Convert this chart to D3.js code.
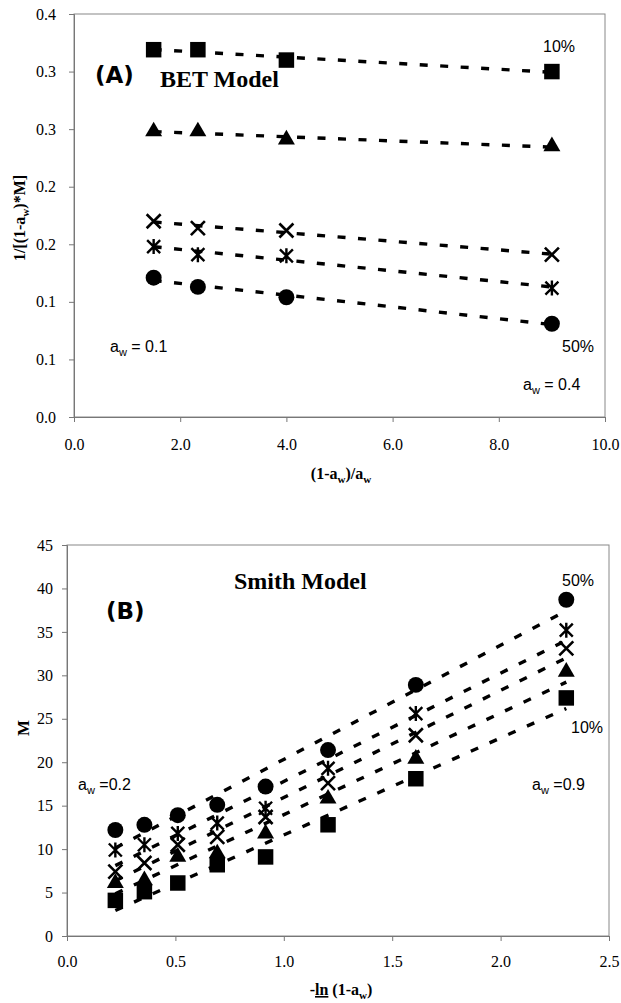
<!DOCTYPE html>
<html>
<head>
<meta charset="utf-8">
<script src="https://cdn.jsdelivr.net/npm/d3@7"></script>
<style>
  body { margin: 0; background: #fff; }
  svg { display: block; }
</style>
</head>
<body>
<svg id="chart" width="621" height="1003"></svg>
<script>
// ---- Panel A: BET model, 1/[(1-aw)*M] against (1-aw)/aw ----
const betX = [1.5, 2.333, 4.0, 9.0];
const bet10 = [0.319, 0.319, 0.310, 0.300];
const bet20 = [0.248, 0.248, 0.241, 0.235];
const bet30 = [0.170, 0.164, 0.162, 0.141];
const bet40 = [0.148, 0.141, 0.140, 0.112];
const bet50 = [0.121, 0.113, 0.104, 0.081];
const betXTicks = [0, 2, 4, 6, 8, 10];
const betXTickLabels = ["0.0", "2.0", "4.0", "6.0", "8.0", "10.0"];
const betYTicks = [0, 0.05, 0.10, 0.15, 0.20, 0.25, 0.30, 0.35];
const betYTickLabels = ["0.0", "0.1", "0.1", "0.2", "0.2", "0.3", "0.3", "0.4"];

// ---- Panel B: Smith model, M against -ln(1-aw) ----
const smithX = [0.223, 0.357, 0.511, 0.693, 0.916, 1.204, 1.609, 2.303];
const smith10 = [4.1, 5.1, 6.1, 8.2, 9.1, 12.8, 18.1, 27.4];
const smith20 = [6.1, 6.4, 9.1, 9.5, 11.8, 15.8, 20.4, 30.4];
const smith30 = [7.4, 8.4, 10.5, 11.4, 13.7, 17.6, 23.1, 33.1];
const smith40 = [9.9, 10.5, 11.8, 13.0, 14.7, 19.3, 25.6, 35.2];
const smith50 = [12.2, 12.8, 13.9, 15.1, 17.2, 21.4, 28.9, 38.7];
const smithXTicks = [0, 0.5, 1.0, 1.5, 2.0, 2.5];
const smithXTickLabels = ["0.0", "0.5", "1.0", "1.5", "2.0", "2.5"];
const smithYTicks = [0, 5, 10, 15, 20, 25, 30, 35, 40, 45];
const smithYTickLabels = ["0", "5", "10", "15", "20", "25", "30", "35", "40", "45"];

// marker shape for each moisture level (10% .. 50%)
const markerTypes = ["square", "triangle", "cross", "asterisk", "circle"];

const svg = d3.select("#chart");
const serif = "'Liberation Serif', 'Times New Roman', serif";
const sans = "'Liberation Sans', Arial, sans-serif";
const heavy = "'DejaVu Sans', Arial, sans-serif";

function linearFit(xs, ys) {
  const n = xs.length;
  const mx = d3.mean(xs), my = d3.mean(ys);
  let sxy = 0, sxx = 0;
  for (let i = 0; i < n; i++) {
    sxy += (xs[i] - mx) * (ys[i] - my);
    sxx += (xs[i] - mx) * (xs[i] - mx);
  }
  const b = sxy / sxx;
  return x => my + b * (x - mx);
}

function drawMarker(g, type, cx, cy) {
  const t = `translate(${cx},${cy})`;
  if (type === "square") {
    g.append("path").attr("transform", t)
      .attr("d", d3.symbol(d3.symbolSquare, 240)()).attr("fill", "#000");
  } else if (type === "triangle") {
    g.append("path").attr("transform", t)
      .attr("d", d3.symbol(d3.symbolTriangle, 125)()).attr("fill", "#000");
  } else if (type === "circle") {
    g.append("path").attr("transform", t)
      .attr("d", d3.symbol(d3.symbolCircle, 200)()).attr("fill", "#000");
  } else if (type === "cross") {
    const r = 7;
    g.append("path").attr("transform", t)
      .attr("d", `M${-r},${-r}L${r},${r}M${-r},${r}L${r},${-r}`)
      .attr("stroke", "#000").attr("stroke-width", 2.6).attr("fill", "none");
  } else if (type === "asterisk") {
    const r = 6.5, v = 7.5;
    g.append("path").attr("transform", t)
      .attr("d", `M${-r},${-r}L${r},${r}M${-r},${r}L${r},${-r}M0,${-v}L0,${v}`)
      .attr("stroke", "#000").attr("stroke-width", 2.4).attr("fill", "none");
  }
}

function drawPanel(cfg) {
  const g = svg.append("g");
  const x = d3.scaleLinear().domain(cfg.xDomain).range([cfg.left, cfg.right]);
  const y = d3.scaleLinear().domain(cfg.yDomain).range([cfg.bottom, cfg.top]);

  // plot frame
  g.append("rect")
    .attr("x", cfg.left).attr("y", cfg.top)
    .attr("width", cfg.right - cfg.left).attr("height", cfg.bottom - cfg.top)
    .attr("fill", "none").attr("stroke", "#888").attr("stroke-width", 1);

  const xAxis = d3.axisBottom(x)
    .tickValues(cfg.xTicks)
    .tickFormat((d, i) => cfg.xTickLabels[i])
    .tickSize(5).tickPadding(cfg.xPad);
  const gx = g.append("g").attr("transform", `translate(0,${cfg.bottom})`).call(xAxis);

  const yAxis = d3.axisLeft(y)
    .tickValues(cfg.yTicks)
    .tickFormat((d, i) => cfg.yTickLabels[i])
    .tickSize(5).tickPadding(cfg.yPad);
  const gy = g.append("g").attr("transform", `translate(${cfg.left},0)`).call(yAxis);

  [gx, gy].forEach(ax => {
    ax.select(".domain").attr("stroke", "#777");
    ax.selectAll(".tick line").attr("stroke", "#777");
    ax.selectAll("text").attr("font-family", serif).attr("font-size", 16).attr("fill", "#000");
  });

  // fitted dashed lines, then markers on top
  const xs = cfg.xValues;
  const x0 = d3.min(xs), x1 = d3.max(xs);
  cfg.series.forEach(ys => {
    const f = linearFit(xs, ys);
    g.append("line")
      .attr("x1", x(x0)).attr("y1", y(f(x0)))
      .attr("x2", x(x1)).attr("y2", y(f(x1)))
      .attr("stroke", "#000").attr("stroke-width", 3.4)
      .attr("stroke-dasharray", "8,12.5");
  });
  cfg.series.forEach((ys, si) => {
    ys.forEach((v, i) => drawMarker(g, markerTypes[si], x(xs[i]), y(v)));
  });
  return { g, x, y };
}

function awLabel(g, px, py, rest) {
  const t = g.append("text").attr("x", px).attr("y", py)
    .attr("font-family", sans).attr("font-size", 16).attr("fill", "#000");
  t.append("tspan").text("a");
  t.append("tspan").attr("font-size", 11).attr("dy", 4).text("w");
  t.append("tspan").attr("dy", -4).text(rest);
}

// ---------- Panel A ----------
const A = drawPanel({
  left: 74, right: 605, top: 14, bottom: 417,
  xDomain: [0, 10], yDomain: [0, 0.35],
  xTicks: betXTicks, xTickLabels: betXTickLabels,
  yTicks: betYTicks, yTickLabels: betYTickLabels,
  xPad: 17, yPad: 13,
  xValues: betX,
  series: [bet10, bet20, bet30, bet40, bet50]
});

A.g.append("text").attr("x", 95).attr("y", 83)
  .attr("font-family", heavy).attr("font-weight", "bold").attr("font-size", 23).text("(A)");
A.g.append("text").attr("x", 160).attr("y", 87)
  .attr("font-family", serif).attr("font-weight", "bold").attr("font-size", 24).text("BET Model");
A.g.append("text").attr("x", 559).attr("y", 52).attr("text-anchor", "middle")
  .attr("font-family", sans).attr("font-size", 16).text("10%");
A.g.append("text").attr("x", 578).attr("y", 352).attr("text-anchor", "middle")
  .attr("font-family", sans).attr("font-size", 16).text("50%");
awLabel(A.g, 110, 352, " = 0.1");
awLabel(A.g, 523, 390, " = 0.4");

// axis titles A
{
  const t = A.g.append("text").attr("x", 341).attr("y", 479).attr("text-anchor", "middle")
    .attr("font-family", serif).attr("font-weight", "bold").attr("font-size", 16);
  t.append("tspan").text("(1-a");
  t.append("tspan").attr("font-size", 11).attr("dy", 4).text("w");
  t.append("tspan").attr("dy", -4).text(")/a");
  t.append("tspan").attr("font-size", 11).attr("dy", 4).text("w");
}
{
  const t = A.g.append("text").attr("transform", "translate(25,218) rotate(-90)")
    .attr("text-anchor", "middle")
    .attr("font-family", serif).attr("font-weight", "bold").attr("font-size", 16);
  t.append("tspan").text("1/[(1-a");
  t.append("tspan").attr("font-size", 11).attr("dy", 4).text("w");
  t.append("tspan").attr("dy", -4).text(")*M]");
}

// ---------- Panel B ----------
const B = drawPanel({
  left: 67, right: 609, top: 545, bottom: 936,
  xDomain: [0, 2.5], yDomain: [0, 45],
  xTicks: smithXTicks, xTickLabels: smithXTickLabels,
  yTicks: smithYTicks, yTickLabels: smithYTickLabels,
  xPad: 15, yPad: 9,
  xValues: smithX,
  series: [smith10, smith20, smith30, smith40, smith50]
});

B.g.append("text").attr("x", 234).attr("y", 589)
  .attr("font-family", serif).attr("font-weight", "bold").attr("font-size", 24).text("Smith Model");
B.g.append("text").attr("x", 106).attr("y", 619)
  .attr("font-family", heavy).attr("font-weight", "bold").attr("font-size", 23).text("(B)");
B.g.append("text").attr("x", 578).attr("y", 586).attr("text-anchor", "middle")
  .attr("font-family", sans).attr("font-size", 16).text("50%");
B.g.append("text").attr("x", 587).attr("y", 733).attr("text-anchor", "middle")
  .attr("font-family", sans).attr("font-size", 16).text("10%");
awLabel(B.g, 78, 790, " =0.2");
awLabel(B.g, 532, 790, " =0.9");

{
  const t = B.g.append("text").attr("x", 341).attr("y", 995).attr("text-anchor", "middle")
    .attr("font-family", serif).attr("font-weight", "bold").attr("font-size", 16);
  t.append("tspan").text("-");
  t.append("tspan").attr("text-decoration", "underline").text("ln");
  t.append("tspan").text(" (1-a");
  t.append("tspan").attr("font-size", 11).attr("dy", 4).text("w");
  t.append("tspan").attr("dy", -4).text(")");
}
B.g.append("text").attr("transform", "translate(29,728) rotate(-90)")
  .attr("text-anchor", "middle")
  .attr("font-family", serif).attr("font-weight", "bold").attr("font-size", 17).text("M");
</script>
</body>
</html>
